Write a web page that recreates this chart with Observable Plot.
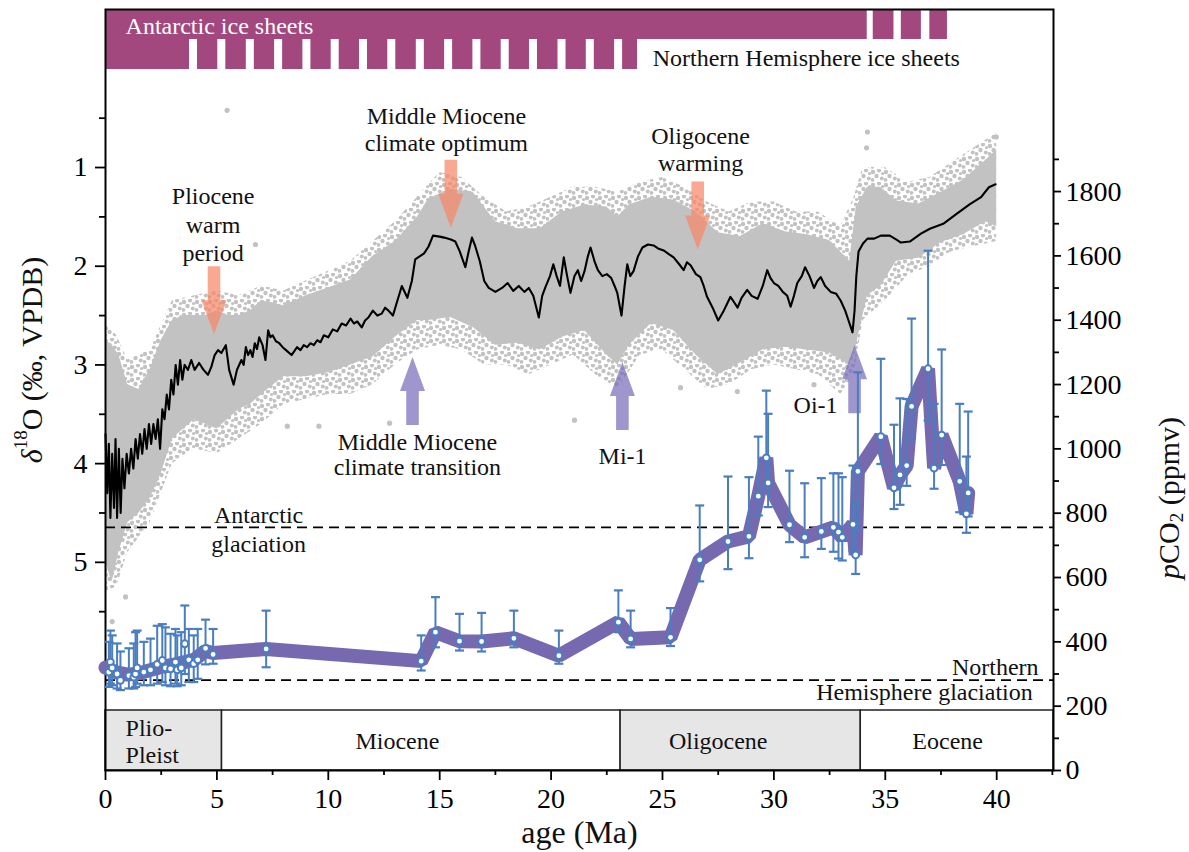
<!DOCTYPE html>
<html><head><meta charset="utf-8">
<script src="https://cdn.jsdelivr.net/npm/d3@7"></script>
<script src="https://cdn.jsdelivr.net/npm/@observablehq/plot@0.6"></script>
<style>
body{margin:0;background:#fff;}
#wrap{position:relative;width:1189px;height:852px;}
#wrap svg{position:absolute;left:0;top:0;}
</style></head><body><div id="wrap"></div>
<script>
// ---------------- data ----------------
const xMajor = [0, 5, 10, 15, 20, 25, 30, 35, 40];
const xMinor = [2.5, 7.5, 12.5, 17.5, 22.5, 27.5, 32.5, 37.5, 42.5];
const d18Major = [1, 2, 3, 4, 5];
const d18Minor = [0.5, 1.5, 2.5, 3.5, 4.5, 5.5];
const pco2Major = [0, 200, 400, 600, 800, 1000, 1200, 1400, 1600, 1800];
const pco2Minor = [100, 300, 500, 700, 900, 1100, 1300, 1500, 1700, 1900];

// ice sheets (age ranges, Ma)
const antarcticIce = [[0, 34.19], [34.46, 35.39], [35.72, 36.62], [37.0, 37.79]];
const northernIce = [[0, 3.77], [4.13, 5.04], [5.40, 6.32], [6.68, 7.59], [7.95, 8.86], [9.22, 10.13],
  [10.49, 11.40], [11.76, 12.67], [13.03, 13.95], [14.31, 15.22], [15.58, 16.49], [16.85, 17.76],
  [18.12, 19.03], [19.39, 20.31], [20.67, 21.58], [21.94, 22.85], [23.21, 23.88]];

// epochs
const epochs = [
  {name: "Plio-Pleist", start: 0, end: 5.23, shade: true},
  {name: "Miocene", start: 5.23, end: 23.12, shade: false},
  {name: "Oligocene", start: 23.12, end: 33.9, shade: true},
  {name: "Eocene", start: 33.9, end: 42.55, shade: false}
];
const epochLabels = [
  {text: "Plio-", age: 0.9, row: "upper"},
  {text: "Pleist", age: 0.9, row: "lower"},
  {text: "Miocene", age: 13.1, row: "mid"},
  {text: "Oligocene", age: 27.5, row: "mid"},
  {text: "Eocene", age: 37.8, row: "mid"}
];

// benthic d18O scatter cloud: dense core [age, top, bottom]
const d18Core = [
  [0,2.75,5.0],[0.3,2.8,5.2],[0.6,2.9,4.9],[1.0,3.2,4.6],[1.5,3.25,4.5],[2.0,3.05,4.35],[2.5,2.75,4.1],
  [3.0,2.55,3.75],[3.5,2.5,3.65],[4.0,2.5,3.55],[4.5,2.5,3.6],[5.0,2.45,3.65],[5.5,2.5,3.55],[6.0,2.5,3.45],
  [6.5,2.45,3.4],[7.0,2.35,3.3],[8.0,2.4,3.12],[9.0,2.3,3.12],[10.0,2.22,3.08],[11.0,2.14,3.0],[12.0,1.9,2.92],
  [13.0,1.75,2.72],[14.0,1.5,2.55],[14.5,1.32,2.55],[15.5,1.22,2.52],[16.5,1.25,2.62],[17.5,1.55,2.8],
  [18.5,1.62,2.78],[19.5,1.62,2.85],[20.5,1.45,2.72],[21.5,1.38,2.65],[22.5,1.4,2.9],[23.0,1.5,3.0],
  [23.5,1.38,2.8],[24.5,1.3,2.58],[25.5,1.33,2.65],[26.5,1.45,2.9],[27.5,1.66,3.1],[28.5,1.7,2.98],
  [29.5,1.57,2.85],[30.5,1.65,2.82],[31.5,1.68,2.85],[32.5,1.74,2.88],[33.4,1.95,3.0],[33.7,1.4,2.8],
  [34.2,1.2,2.3],[34.8,1.2,2.2],[35.5,1.34,1.95],[36.5,1.37,1.92],[37.5,1.25,1.76],[38.5,1.13,1.68],
  [39.5,0.93,1.55],[40.0,0.82,1.6]
];
// sparse outer fringe of the cloud [age, top, bottom]
const d18Fringe = [
  [0,2.6,5.3],[0.5,2.7,5.25],[1,2.95,4.9],[2,2.85,4.6],[3,2.35,4.0],[4,2.3,3.85],[5,2.25,3.9],[6,2.3,3.75],
  [7,2.2,3.6],[8,2.25,3.4],[9,2.15,3.35],[10,2.05,3.3],[11,1.95,3.3],[12,1.75,3.2],[13,1.55,3.0],[14,1.3,2.85],
  [15,1.05,2.8],[16,1.1,2.85],[17,1.3,3.0],[18,1.45,3.0],[19,1.4,3.1],[20,1.3,3.0],[21,1.2,2.9],[22,1.2,3.1],
  [23,1.25,3.25],[24,1.15,2.9],[25,1.1,2.85],[26,1.2,3.05],[27,1.35,3.25],[28,1.45,3.2],[29,1.35,3.05],
  [30,1.35,3.0],[31,1.45,3.05],[32,1.45,3.1],[33,1.6,3.3],[33.6,1.3,3.1],[34,1.0,2.55],[35,1.0,2.35],
  [36,1.15,2.1],[37,1.1,2.0],[38,0.95,1.85],[39,0.8,1.8],[40,0.65,1.75]
];
const d18Outliers = [[5.46,0.42],[6.73,1.78],[34.2,0.64],[34.16,0.8],[39.98,0.69],[8.16,3.62],[9.58,3.62],
  [12.75,3.59],[25.81,3.23],[31.8,3.2],[28.36,3.27],[21.05,3.56],[0.3,5.6],[0.9,5.35]];

// smoothed d18O curve [age, d18O]
const d18Curve = [
  [0,3.7],[0.08,4.3],[0.15,3.8],[0.22,4.55],[0.3,3.9],[0.38,4.45],[0.45,3.75],[0.52,4.55],[0.6,3.85],
  [0.68,4.5],[0.76,3.95],[0.85,4.25],[0.95,3.9],[1.05,4.1],[1.15,3.85],[1.25,4.05],[1.35,3.75],[1.45,3.95],
  [1.55,3.7],[1.65,3.9],[1.75,3.65],[1.85,3.85],[1.95,3.6],[2.05,3.8],[2.15,3.6],[2.25,3.75],[2.35,3.55],
  [2.45,3.85],[2.55,3.45],[2.65,3.55],[2.75,3.3],[2.85,3.45],[2.95,3.15],[3.05,3.3],[3.15,3.0],[3.25,3.2],
  [3.35,2.95],[3.45,3.15],[3.55,3.0],[3.7,3.05],[3.85,2.95],[4.0,3.05],[4.2,2.98],[4.4,3.05],[4.6,3.1],
  [4.75,3.02],[4.9,2.9],[5.05,2.85],[5.2,2.88],[5.4,2.8],[5.55,3.05],[5.75,3.2],[5.9,3.05],[6.1,2.95],
  [6.2,3.0],[6.3,2.82],[6.4,2.9],[6.5,2.85],[6.6,2.92],[6.7,2.78],[6.8,2.84],[6.9,2.72],[7.05,2.8],[7.18,2.95],
  [7.3,2.65],[7.4,2.72],[7.5,2.7],[7.65,2.76],[7.8,2.78],[7.95,2.82],[8.1,2.85],[8.35,2.9],[8.6,2.82],
  [8.75,2.85],[8.9,2.8],[9.05,2.82],[9.2,2.78],[9.35,2.8],[9.5,2.75],[9.65,2.77],[9.8,2.7],[10.0,2.72],
  [10.2,2.64],[10.4,2.66],[10.6,2.58],[10.8,2.6],[11.0,2.53],[11.15,2.58],[11.3,2.56],[11.5,2.62],[11.65,2.55],
  [11.8,2.52],[12.0,2.45],[12.2,2.5],[12.4,2.48],[12.55,2.42],[12.7,2.45],[12.9,2.5],[13.1,2.35],
  [13.3,2.2],[13.55,2.32],[13.75,2.15],[13.9,1.93],[14.1,1.9],[14.3,1.87],[14.5,1.8],[14.7,1.69],[15.0,1.7],
  [15.2,1.71],[15.5,1.73],[15.7,1.75],[15.9,1.85],[16.15,2.01],[16.3,1.85],[16.45,1.71],[16.6,1.8],[16.8,1.95],
  [17.0,2.15],[17.2,2.22],[17.5,2.26],[17.8,2.22],[18.05,2.17],[18.3,2.25],[18.55,2.2],[18.8,2.26],[19.0,2.22],
  [19.2,2.3],[19.45,2.52],[19.6,2.3],[19.75,2.21],[19.95,2.1],[20.1,1.98],[20.25,2.1],[20.4,2.2],[20.57,1.91],
  [20.72,2.1],[20.87,2.27],[21.05,2.1],[21.2,2.04],[21.35,2.15],[21.5,2.05],[21.65,1.9],[21.77,1.81],
  [21.95,1.95],[22.1,2.04],[22.3,2.1],[22.5,2.08],[22.7,2.12],[22.85,2.2],[22.97,2.27],[23.16,2.5],[23.3,2.2],
  [23.42,1.98],[23.55,2.1],[23.7,2.05],[23.9,1.9],[24.1,1.81],[24.35,1.78],[24.6,1.79],[24.8,1.82],[25.05,1.84],
  [25.3,1.88],[25.5,1.91],[25.75,1.98],[25.95,2.04],[26.1,1.96],[26.26,1.99],[26.5,2.08],[26.7,2.11],
  [26.85,2.2],[27.0,2.31],[27.25,2.42],[27.5,2.55],[27.75,2.45],[27.9,2.38],[28.05,2.31],[28.2,2.36],
  [28.37,2.42],[28.55,2.32],[28.8,2.24],[29.0,2.3],[29.27,2.33],[29.5,2.2],[29.7,2.04],[29.85,2.12],[30.0,2.17],
  [30.2,2.2],[30.4,2.26],[30.6,2.3],[30.75,2.41],[30.9,2.3],[31.05,2.17],[31.25,2.1],[31.4,2.01],[31.6,2.1],
  [31.8,2.22],[31.95,2.15],[32.1,2.11],[32.3,2.2],[32.55,2.26],[32.8,2.28],[33.0,2.35],[33.2,2.45],[33.35,2.55],
  [33.53,2.67],[33.62,2.45],[33.7,2.1],[33.8,1.85],[34.0,1.77],[34.2,1.72],[34.5,1.72],[34.8,1.69],[35.2,1.69],
  [35.5,1.73],[35.7,1.76],[36.1,1.75],[36.6,1.67],[37.0,1.62],[37.6,1.57],[38.2,1.47],[38.8,1.37],[39.3,1.3],
  [39.65,1.2],[39.95,1.17]
];

// climate events (arrow tip positions)
const warmEvents = [{age: 4.87, tip: 2.69}, {age: 15.5, tip: 1.61}, {age: 26.58, tip: 1.83}];
const coolEvents = [{age: 13.78, tip: 2.92}, {age: 23.2, tip: 2.97}, {age: 33.62, tip: 2.80}];
// event labels, one entry per text line
const eventLabels = [
  {text: "Pliocene", age: 4.83, d18: 1.29},
  {text: "warm", age: 4.83, d18: 1.59},
  {text: "period", age: 4.83, d18: 1.87},
  {text: "Middle Miocene", age: 15.3, d18: 0.48},
  {text: "climate optimum", age: 15.3, d18: 0.75},
  {text: "Oligocene", age: 26.71, d18: 0.68},
  {text: "warming", age: 26.71, d18: 0.96},
  {text: "Middle Miocene", age: 14.0, d18: 3.78},
  {text: "climate transition", age: 14.0, d18: 4.04},
  {text: "Mi-1", age: 23.21, d18: 3.928},
  {text: "Oi-1", age: 31.87, d18: 3.41}
];

// pCO2 thresholds (ppmv)
const thresholds = [{name: "Antarctic glaciation", ppm: 756}, {name: "Northern Hemisphere glaciation", ppm: 281}];

// pCO2 proxy estimates [age, value, low, high]
const pco2Points = [
  [0.15,306,260,400],[0.22,337,270,435],[0.3,319,265,420],[0.52,300,255,395],[0.67,280,250,370],
  [1.05,295,255,380],[1.27,290,255,395],[1.35,300,260,430],[1.42,319,270,435],[1.72,306,265,400],
  [2.02,313,265,410],[2.32,330,270,450],[2.55,342,275,455],[2.69,319,265,445],[2.92,316,262,425],
  [3.14,337,270,440],[3.22,313,262,420],[3.4,319,265,430],[3.56,394,300,513],[3.74,344,275,440],
  [3.96,332,275,420],[4.14,344,285,440],[4.49,380,330,469],[4.83,361,332,440],
  [7.21,378,321,497],[14.17,340,311,420],[14.81,430,383,539],[15.89,402,373,487],[16.88,401,370,490],
  [18.33,411,383,497],[20.35,357,332,435],[23.02,461,430,560],[23.57,409,383,497],[25.36,414,387,505],
  [26.67,655,588,824],[27.94,712,626,914],[28.88,728,660,912],[29.3,853,793,1038],[29.66,972,880,1181],
  [29.74,894,819,1109],[30.7,764,710,932],[31.38,725,663,893],[32.13,743,689,909],[32.67,756,680,924],
  [32.9,741,659,924],[33.07,725,653,912],[33.55,765,684,948],[33.67,670,611,830],[33.77,930,746,1238],
  [34.8,1038,953,1280],[35.39,879,813,1075],[35.66,919,826,1157],[35.96,948,885,1155],[36.18,1132,1033,1405],
  [36.92,1249,1088,1616],[37.19,940,876,1140],[37.53,1043,950,1309],[38.34,899,803,1140],[38.64,798,739,976],
  [38.72,863,790,1116]
];
// smoothed pCO2 curve [age, value]
const pco2Curve = [
  [0,320],[0.5,305],[1.0,298],[1.5,302],[2.0,312],[2.5,322],[3.0,328],[3.5,336],[4.0,345],[4.49,372],[4.83,365],
  [7.21,378],[14.17,340],[14.81,430],[15.89,402],[16.88,401],[18.33,411],[20.35,357],[23.02,461],[23.57,409],
  [25.36,414],[26.67,655],[27.94,712],[28.88,728],[29.3,853],[29.66,972],[29.74,894],[30.7,764],[31.38,725],
  [32.13,743],[32.67,756],[33.07,725],[33.55,765],[33.67,670],[33.77,930],[34.8,1038],[35.39,879],[35.66,919],
  [35.96,948],[36.18,1132],[36.92,1249],[37.19,940],[37.53,1043],[38.34,899],[38.64,798],[38.72,863]
];

// ---------------- layout / style ----------------
const W = 1189, H = 852;
const MT = 9, MR = 136, MB = 82, ML = 105;
const FRAME_BOTTOM = H - MB;          // 770
const EPOCH_TOP = 710;
const AGE_DOMAIN = [0, 42.55];
const D18_DOMAIN = [-0.601, 7.109];
const PCO2_DOMAIN = [0, 2366];
const FONT = "Liberation Serif";
const ICE = "#a3487f", GRAY = "#c2c2c2", PURPLE = "#7669b0", BLUE = "#4a7ebf";
const ANN = 24, TICKF = 28;

const arrowSymbol = {draw(ctx) {
  ctx.moveTo(0, 0); ctx.lineTo(12.5, 34); ctx.lineTo(6.3, 34); ctx.lineTo(6.3, 68);
  ctx.lineTo(-6.3, 68); ctx.lineTo(-6.3, 34); ctx.lineTo(-12.5, 34); ctx.closePath();
}};
const capSymbol = {draw(ctx) { ctx.moveTo(-4.5, 0); ctx.lineTo(4.5, 0); }};

const ax = d => d[0];
const tickText = {fontFamily: FONT, fontSize: TICKF, label: null, strokeWidth: 1.8};
const annText = {fontFamily: FONT, fontSize: ANN, fill: "#111", lineAnchor: "middle"};

const plotA = Plot.plot({
  width: W, height: H, marginTop: MT, marginRight: MR, marginBottom: MB, marginLeft: ML,
  style: {fontFamily: FONT, fontSize: "28px", background: "white", color: "black", overflow: "visible"},
  x: {domain: AGE_DOMAIN},
  y: {domain: D18_DOMAIN, reverse: true},
  marks: [
    Plot.areaY(d18Fringe, {x: ax, y1: d => d[1], y2: d => d[2], fill: "url(#speckle)"}),
    Plot.areaY(d18Core, {x: ax, y1: d => d[1], y2: d => d[2], fill: GRAY}),
    Plot.dot(d18Outliers, {x: ax, y: d => d[1], r: 2.6, fill: GRAY}),
    Plot.line(d18Curve, {x: ax, y: d => d[1], stroke: "black", strokeWidth: 2.1}),
    Plot.rect(antarcticIce, {x1: d => d[0], x2: d => d[1], fill: ICE, insetTop: 1, insetBottom: FRAME_BOTTOM - 39}),
    Plot.rect(northernIce, {x1: d => d[0], x2: d => d[1], fill: ICE, insetTop: 30, insetBottom: FRAME_BOTTOM - 69}),
    Plot.text(["Antarctic ice sheets"], {x: 0.9, frameAnchor: "top", dy: 17, textAnchor: "start", ...annText, fill: "white"}),
    Plot.text(["Northern Hemisphere ice sheets"], {x: 24.56, frameAnchor: "top", dy: 49, textAnchor: "start", ...annText}),
    Plot.dot(warmEvents, {x: "age", y: "tip", symbol: arrowSymbol, rotate: 180, fill: "rgb(246,134,102)", fillOpacity: 0.72, stroke: "none"}),
    Plot.dot(coolEvents, {x: "age", y: "tip", symbol: arrowSymbol, rotate: 0, fill: "rgb(120,105,185)", fillOpacity: 0.7, stroke: "none"}),
    Plot.text(eventLabels, {x: "age", y: "d18", text: "text", ...annText}),
    Plot.rect(epochs, {x1: "start", x2: "end", fill: d => d.shade ? "#e6e6e6" : "white", stroke: "#222", strokeWidth: 1.5, insetTop: EPOCH_TOP - MT}),
    Plot.text(epochLabels.filter(d => d.row === "upper"), {x: "age", text: "text", textAnchor: "start", frameAnchor: "bottom", dy: -42, ...annText}),
    Plot.text(epochLabels.filter(d => d.row === "lower"), {x: "age", text: "text", textAnchor: "start", frameAnchor: "bottom", dy: -15, ...annText}),
    Plot.text(epochLabels.filter(d => d.row === "mid"), {x: "age", text: "text", textAnchor: "middle", frameAnchor: "bottom", dy: -29, ...annText}),
    Plot.text(["age (Ma)"], {frameAnchor: "bottom", dy: 62, ...annText, fontSize: 32}),
    Plot.axisX({ticks: xMajor, tickSize: 10, tickPadding: 8, tickFormat: d => String(d), ...tickText}),
    Plot.axisX({ticks: xMinor, tickSize: 5, tickFormat: () => "", ...tickText}),
    Plot.axisY({ticks: d18Major, tickSize: 10, tickPadding: 8, tickFormat: d => String(d), ...tickText}),
    Plot.axisY({ticks: d18Minor, tickSize: 6, tickFormat: () => "", ...tickText}),
    Plot.frame({stroke: "black", strokeWidth: 2})
  ]
});

const plotB = Plot.plot({
  width: W, height: H, marginTop: MT, marginRight: MR, marginBottom: MB, marginLeft: ML,
  style: {fontFamily: FONT, fontSize: "28px", background: "transparent", color: "black", overflow: "visible"},
  x: {domain: AGE_DOMAIN, axis: null},
  y: {domain: PCO2_DOMAIN},
  marks: [
    Plot.ruleY(thresholds, {y: "ppm", stroke: "black", strokeWidth: 1.6, strokeDasharray: "10,6"}),
    Plot.text([thresholds[0]], {x: 6.87, y: "ppm", text: () => "Antarctic", dy: -12, ...annText}),
    Plot.text([thresholds[0]], {x: 6.87, y: "ppm", text: () => "glaciation", dy: 17, ...annText}),
    Plot.text([thresholds[1]], {x: 41.88, y: "ppm", text: () => "Northern", dy: -13, textAnchor: "end", ...annText}),
    Plot.text([thresholds[1]], {x: 41.62, y: "ppm", text: () => "Hemisphere glaciation", dy: 12, textAnchor: "end", ...annText}),
    Plot.line(pco2Curve, {x: ax, y: d => d[1], stroke: PURPLE, strokeWidth: 14, strokeLinejoin: "bevel", strokeLinecap: "round"}),
    Plot.ruleX(pco2Points, {x: ax, y1: d => d[2], y2: d => d[3], stroke: BLUE, strokeWidth: 2}),
    Plot.dot(pco2Points, {x: ax, y: d => d[2], symbol: capSymbol, stroke: BLUE, strokeWidth: 2.2, fill: "none"}),
    Plot.dot(pco2Points, {x: ax, y: d => d[3], symbol: capSymbol, stroke: BLUE, strokeWidth: 2.2, fill: "none"}),
    Plot.dot(pco2Points, {x: ax, y: d => d[1], r: 3.4, fill: "white", stroke: BLUE, strokeWidth: 2}),
    Plot.axisY({anchor: "right", ticks: pco2Major, tickSize: 7, tickPadding: 5, tickFormat: d => String(d), ...tickText}),
    Plot.axisY({anchor: "right", ticks: pco2Minor, tickSize: 5, tickFormat: () => "", ...tickText})
  ]
});

// speckle pattern for the sparse edge of the scatter cloud
const defs = d3.select(plotA).insert("defs", ":first-child");
const pat = defs.append("pattern").attr("id", "speckle").attr("patternUnits", "userSpaceOnUse")
  .attr("width", 13).attr("height", 13);
[[2, 3, 2.2], [8, 1.5, 2.1], [5.5, 7, 2.2], [10.8, 9.5, 2.0], [1.5, 10.8, 1.9], [11.5, 4.5, 1.6]].forEach(([cx, cy, r]) =>
  pat.append("circle").attr("cx", cx).attr("cy", cy).attr("r", r).attr("fill", GRAY));

// axis titles with rich text
const yl = d3.select(plotA).append("text")
  .attr("transform", "translate(31,360) rotate(-90)")
  .attr("text-anchor", "middle").attr("dominant-baseline", "central")
  .attr("font-size", 30).attr("font-family", FONT).attr("fill", "#111");
yl.append("tspan").attr("font-style", "italic").text("δ");
yl.append("tspan").attr("font-size", 19).attr("dy", -11).text("18");
yl.append("tspan").attr("dy", 11).text("O (‰, VPDB)");

const pl = d3.select(plotB).append("text")
  .attr("transform", "translate(1168,498) rotate(-90)")
  .attr("text-anchor", "middle").attr("dominant-baseline", "central")
  .attr("font-size", 30).attr("font-family", FONT).attr("fill", "#111");
pl.append("tspan").attr("font-style", "italic").text("p");
pl.append("tspan").text("CO");
pl.append("tspan").attr("font-size", 19).attr("dy", 8).text("2");
pl.append("tspan").attr("dy", -8).text(" (ppmv)");

const wrap = document.getElementById("wrap");
wrap.appendChild(plotA);
wrap.appendChild(plotB);
</script>
</body></html>
